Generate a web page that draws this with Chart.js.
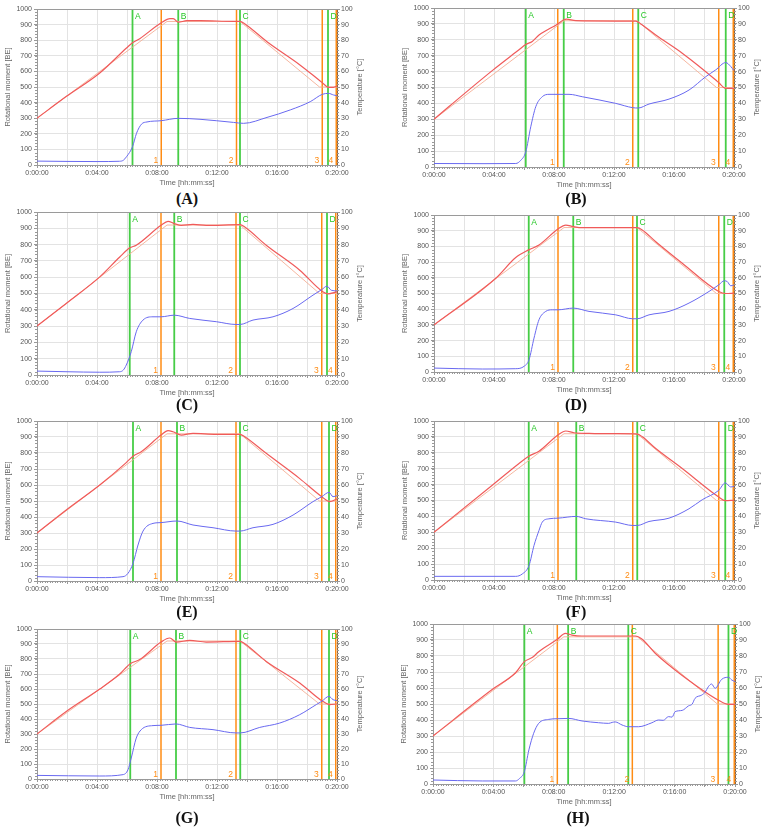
<!DOCTYPE html>
<html lang="en">
<head>
<meta charset="UTF-8">
<title>Rotational moment and temperature</title>
<script src="https://cdn.jsdelivr.net/npm/chart.js"></script>
<style>
    body {
        margin: 0;
        background: #fff;
        width: 764px;
        height: 830px;
        position: relative;
        overflow: hidden;
    }
    canvas {
        position: absolute;
    }
    .cap {
        position: absolute;
        width: 60px;
        margin-left: -30px;
        text-align: center;
        font: bold 16px "Liberation Serif", "DejaVu Serif", serif;
        color: #111;
        line-height: 16px;
    }
</style>
</head>
<body>
<script>
    // time in seconds, moment in BE, temperature in degC
    const greenLabels = ['A', 'B', 'C', 'D'];
    const orangeLabels = ['1', '2', '3', '4'];
    const setpoint = [[0, 30], [520, 92], [812, 92], [1130, 50], [1200, 50]];

    const momentA = [[0,25],[120,23],[240,22],[330,24],[345,30],[358,53],[382,117],[398,203],[418,262],[440,276],[497,284],[565,299],[652,293],[786,273],[826,267],[920,305],[1013,353],[1093,406],[1141,453],[1166,459],[1186,449],[1200,444]];
    const tempA = [[0,30],[118,44],[251,59],[358,75],[382,78.4],[411,81],[497,91.2],[532,93.8],[545,93.8],[565,91.5],[599,92.5],[652,92.5],[786,92.1],[812,92.1],[832,90.4],[920,79],[1053,64],[1141,52.8],[1166,49.8],[1186,49.8],[1200,50.6]];
    const greenA = [382, 565, 812, 1164];
    const orangeA = [497, 798, 1141, 1197];

    const momentB = [[0,22],[200,21],[327,22],[347,42],[367,95],[387,253],[407,379],[433,442],[460,457],[540,457],[593,442],[727,400],[795,373],[817,371],[860,396],[940,427],[1020,484],[1087,568],[1127,611],[1167,657],[1187,632],[1200,606]];
    const tempB = [[0,30],[60,38],[233,60.6],[340,73.7],[367,77],[393,79],[420,83],[495,90],[519,92.6],[530,93],[567,92],[727,91.8],[807,91.8],[827,90],[887,83],[993,71.6],[1127,54.7],[1139,53],[1167,49.5],[1200,49.5]];
    const greenB = [367, 519, 817, 1167];
    const orangeB = [495, 795, 1139, 1197];

    const momentC = [[0,24],[120,20],[251,17],[331,20],[345,30],[357,61],[377,143],[397,265],[424,337],[464,357],[496,357],[549,367],[611,347],[717,327],[796,310],[812,310],[864,337],[944,357],[1024,408],[1104,490],[1139,524],[1160,545],[1177,520],[1200,516]];
    const tempC = [[0,30],[117,43.9],[251,60.2],[331,72.4],[371,78],[397,79.6],[496,91.8],[524,94.3],[549,92.9],[577,91.8],[624,92.4],[677,91.8],[812,92.2],[831,90.8],[917,79.6],[1051,64.3],[1139,51.6],[1164,49.8],[1200,51]];
    const greenC = [371, 549, 812, 1160];
    const orangeC = [496, 796, 1139, 1195];

    const momentD = [[0,25],[193,19],[327,21],[360,36],[380,78],[400,216],[420,333],[447,386],[473,396],[496,396],[557,407],[620,386],[727,364],[795,339],[812,339],[860,364],[940,386],[1020,439],[1100,513],[1139,555],[1161,581],[1173,576],[1187,549],[1200,555]];
    const tempD = [[0,30],[247,59.7],[327,72.9],[379,77.8],[420,80.9],[496,91.1],[527,93.6],[557,92.6],[593,91.9],[727,91.9],[812,91.9],[833,90.5],[887,83],[993,69.3],[1139,51.3],[1167,50],[1200,50.2]];
    const greenD = [379, 557, 812, 1161];
    const orangeD = [496, 795, 1139, 1197];

    const momentE = [[0,27],[251,21],[344,27],[364,48],[384,110],[404,225],[424,312],[464,360],[496,365],[560,375],[624,350],[704,333],[796,312],[812,312],[864,333],[944,354],[1024,412],[1104,496],[1139,527],[1168,554],[1184,527],[1200,533]];
    const tempE = [[0,30],[117,44.4],[251,60],[357,74],[384,78],[417,80.8],[496,91.2],[524,94],[544,93.3],[577,91.2],[624,92.3],[717,91.7],[812,91.7],[831,90.2],[917,79.8],[1051,64],[1139,52.7],[1171,49.6],[1200,51.3]];
    const greenE = [384, 560, 812, 1168];
    const orangeE = [496, 796, 1139, 1195];

    const momentF = [[0,23],[327,23],[353,38],[380,91],[400,217],[420,312],[433,364],[460,385],[496,389],[569,400],[607,385],[727,364],[795,343],[813,343],[860,368],[940,389],[1020,448],[1073,505],[1139,564],[1165,611],[1187,585],[1200,589]];
    const tempF = [[0,30],[233,59.6],[340,73.3],[379,77.9],[420,81],[496,91.2],[527,93.7],[560,92.6],[620,92.2],[727,92],[813,91.8],[833,90.1],[887,82.7],[993,70.1],[1139,52.2],[1165,49.9],[1200,50.1]];
    const greenF = [379, 569, 813, 1165];
    const orangeF = [496, 795, 1139, 1197];

    const momentG = [[0,24],[251,20],[344,29],[364,62],[377,140],[397,273],[417,329],[464,356],[496,358],[556,367],[611,344],[704,329],[796,307],[813,307],[891,344],[971,373],[1051,429],[1117,496],[1139,518],[1168,551],[1184,529],[1200,522]];
    const tempG = [[0,30],[117,45],[251,60],[331,70],[373,76.9],[411,79.6],[496,91.3],[531,94],[557,91.3],[611,92.4],[677,91.3],[813,91.8],[831,90.2],[917,78.4],[1051,64],[1139,52.2],[1171,49.6],[1200,50]];
    const greenG = [373, 556, 813, 1168];
    const orangeG = [496, 796, 1139, 1195];

    const momentH = [[0,25],[196,19],[328,19],[344,35],[363,77],[381,213],[400,317],[420,379],[460,404],[494,408],[539,410],[592,394],[658,383],[698,379],[712,385],[724,388],[751,369],[776,358],[817,358],[870,383],[896,400],[915,398],[936,421],[950,418],[962,452],[990,460],[1015,488],[1030,500],[1041,535],[1068,556],[1082,575],[1094,608],[1107,625],[1121,598],[1147,654],[1174,667],[1187,650],[1200,640]];
    const tempH = [[0,30],[235,59],[328,69.5],[363,76.5],[394,79],[420,82.7],[494,90.4],[526,94.2],[552,93.1],[592,92.5],[724,92.5],[804,92.5],[830,90.6],[883,81.7],[989,68],[1133,52.5],[1174,49.8],[1200,49.8]];
    const greenH = [363, 537, 776, 1174];
    const orangeH = [494, 792, 1133, 1197];

    // plot area of each panel on the page, and caption centre
    const panels = [
        { id: 'A', moment: momentA, temp: tempA, green: greenA, orange: orangeA, box: [37, 337, 9, 165], cap: [187, 199] },
        { id: 'B', moment: momentB, temp: tempB, green: greenB, orange: orangeB, box: [434, 734, 8, 167], cap: [576, 199] },
        { id: 'C', moment: momentC, temp: tempC, green: greenC, orange: orangeC, box: [37, 337, 212, 375], cap: [187, 405] },
        { id: 'D', moment: momentD, temp: tempD, green: greenD, orange: orangeD, box: [434, 734, 215, 372], cap: [576, 405] },
        { id: 'E', moment: momentE, temp: tempE, green: greenE, orange: orangeE, box: [37, 337, 421, 581], cap: [187, 612] },
        { id: 'F', moment: momentF, temp: tempF, green: greenF, orange: orangeF, box: [434, 734, 421, 580], cap: [576, 612] },
        { id: 'G', moment: momentG, temp: tempG, green: greenG, orange: orangeG, box: [37, 337, 629, 779], cap: [187, 818] },
        { id: 'H', moment: momentH, temp: tempH, green: greenH, orange: orangeH, box: [433, 735, 624, 784], cap: [578, 818] }
    ];

    const FONT = '"Liberation Sans", Arial, sans-serif';
    const GREEN = 'rgba(50,200,50,0.9)';
    const ORANGE = 'rgb(255,140,20)';
    const LEFT_W = 37, RIGHT_W = 30, BOTTOM_H = 24, TOP_PAD = 8;

    function fmtTime(v) {
        const h = Math.floor(v / 3600);
        const m = Math.floor(v / 60) % 60;
        const s = v % 60;
        return h + ':' + String(m).padStart(2, '0') + ':' + String(s).padStart(2, '0');
    }

    const toXY = pts => pts.map(p => ({ x: p[0], y: p[1] }));

    function vline(t, color, w) {
        return {
            data: [{ x: t, y: 0 }, { x: t, y: 1000 }],
            yAxisID: 'y',
            borderColor: color,
            borderWidth: w,
            pointRadius: 0
        };
    }

    // frame, minor ticks, marker letters and right axis title
    const extras = {
        id: 'extras',
        afterDraw(chart, args, opts) {
            const { ctx, chartArea: a, scales } = chart;
            const x = scales.x, y = scales.y, y1 = scales.y1;
            ctx.save();
            ctx.strokeStyle = '#9a9a9a';
            ctx.lineWidth = 1;
            ctx.beginPath();
            ctx.moveTo(a.left, a.top + 0.5);
            ctx.lineTo(a.right, a.top + 0.5);
            ctx.stroke();

            ctx.strokeStyle = '#999';
            ctx.beginPath();
            for (let t = 0; t <= 1200; t += 10) {
                const px = Math.round(x.getPixelForValue(t)) + 0.5;
                ctx.moveTo(px, a.bottom);
                ctx.lineTo(px, a.bottom + 2);
            }
            for (let v = 0; v <= 1000; v += 20) {
                const py = Math.round(y.getPixelForValue(v)) + 0.5;
                ctx.moveTo(a.left - 2, py);
                ctx.lineTo(a.left, py);
            }
            for (let v = 0; v <= 100; v += 2) {
                const py = Math.round(y1.getPixelForValue(v)) + 0.5;
                ctx.moveTo(a.right, py);
                ctx.lineTo(a.right + 2, py);
            }
            ctx.stroke();

            ctx.font = '8.5px ' + FONT;
            ctx.fillStyle = 'rgb(40,200,40)';
            ctx.textAlign = 'left';
            ctx.textBaseline = 'alphabetic';
            opts.green.forEach((t, i) => {
                ctx.fillText(greenLabels[i], x.getPixelForValue(t) + 2.5, a.top + 10);
            });
            ctx.fillStyle = ORANGE;
            ctx.textAlign = 'right';
            opts.orange.forEach((t, i) => {
                ctx.fillText(orangeLabels[i], x.getPixelForValue(t) - 3, a.bottom - 2);
            });

            ctx.translate(a.right + 23, (a.top + a.bottom) / 2);
            ctx.rotate(-Math.PI / 2);
            ctx.textAlign = 'center';
            ctx.textBaseline = 'middle';
            ctx.fillStyle = '#666';
            ctx.font = '7.5px ' + FONT;
            ctx.fillText('Temperature [\u00B0C]', 0, 0);
            ctx.restore();
        }
    };

    const tickFont = { family: FONT, size: 7 };
    const titleFont = { family: FONT, size: 7.5 };

    panels.forEach(p => {
        const [l, r, t, b] = p.box;
        const cv = document.createElement('canvas');
        cv.width = (r - l) + LEFT_W + RIGHT_W;
        cv.height = (b - t) + TOP_PAD + BOTTOM_H;
        cv.style.left = (l - LEFT_W) + 'px';
        cv.style.top = (t - TOP_PAD) + 'px';
        document.body.appendChild(cv);

        const cap = document.createElement('div');
        cap.className = 'cap';
        cap.textContent = '(' + p.id + ')';
        cap.style.left = p.cap[0] + 'px';
        cap.style.top = (p.cap[1] - 8) + 'px';
        document.body.appendChild(cap);

        const datasets = [
            { data: toXY(p.moment), yAxisID: 'y', borderColor: 'rgb(105,105,240)', borderWidth: 1, pointRadius: 0, cubicInterpolationMode: 'monotone' },
            { data: toXY(p.temp), yAxisID: 'y1', borderColor: 'rgb(240,90,90)', borderWidth: 1.2, pointRadius: 0, cubicInterpolationMode: 'monotone' },
            { data: toXY(setpoint), yAxisID: 'y1', borderColor: 'rgba(245,175,150,0.9)', borderWidth: 1, pointRadius: 0 }
        ];
        p.green.forEach(v => datasets.push(vline(v, GREEN, 1.8)));
        p.orange.forEach(v => datasets.push(vline(v, ORANGE, 1.5)));

        new Chart(cv, {
            type: 'line',
            data: { datasets: datasets },
            plugins: [extras],
            options: {
                responsive: false,
                animation: false,
                events: [],
                layout: { padding: { top: TOP_PAD, left: 0, right: 0, bottom: 0 } },
                plugins: {
                    legend: { display: false },
                    tooltip: { enabled: false },
                    extras: { green: p.green, orange: p.orange }
                },
                scales: {
                    x: {
                        type: 'linear',
                        position: 'bottom',
                        min: 0,
                        max: 1200,
                        afterFit: s => { s.height = BOTTOM_H; },
                        ticks: {
                            stepSize: 120,
                            autoSkip: false,
                            maxRotation: 0,
                            padding: 1,
                            color: '#555',
                            font: tickFont,
                            callback: v => v % 240 === 0 ? fmtTime(v) : ''
                        },
                        grid: { color: '#e3e3e3', tickLength: 3, tickColor: '#999' },
                        border: { color: '#999' },
                        title: { display: true, text: 'Time [hh:mm:ss]', color: '#666', font: titleFont, padding: { top: 0, bottom: 2 } }
                    },
                    y: {
                        position: 'left',
                        min: 0,
                        max: 1000,
                        afterFit: s => { s.width = LEFT_W; },
                        ticks: { stepSize: 100, padding: 2, color: '#555', font: tickFont, callback: v => String(v) },
                        grid: { color: '#e3e3e3', tickLength: 3, tickColor: '#999' },
                        border: { color: '#999' },
                        title: { display: true, text: 'Rotational moment [BE]', color: '#666', font: titleFont, padding: { top: 3, bottom: 0 } }
                    },
                    y1: {
                        position: 'right',
                        min: 0,
                        max: 100,
                        afterFit: s => { s.width = RIGHT_W; },
                        ticks: { stepSize: 10, padding: 1, color: '#555', font: tickFont, callback: v => String(v) },
                        grid: { drawOnChartArea: false, tickLength: 3, tickColor: '#999' },
                        border: { color: 'rgb(150,100,60)' }
                    }
                }
            }
        });
    });
</script>
</body>
</html>
